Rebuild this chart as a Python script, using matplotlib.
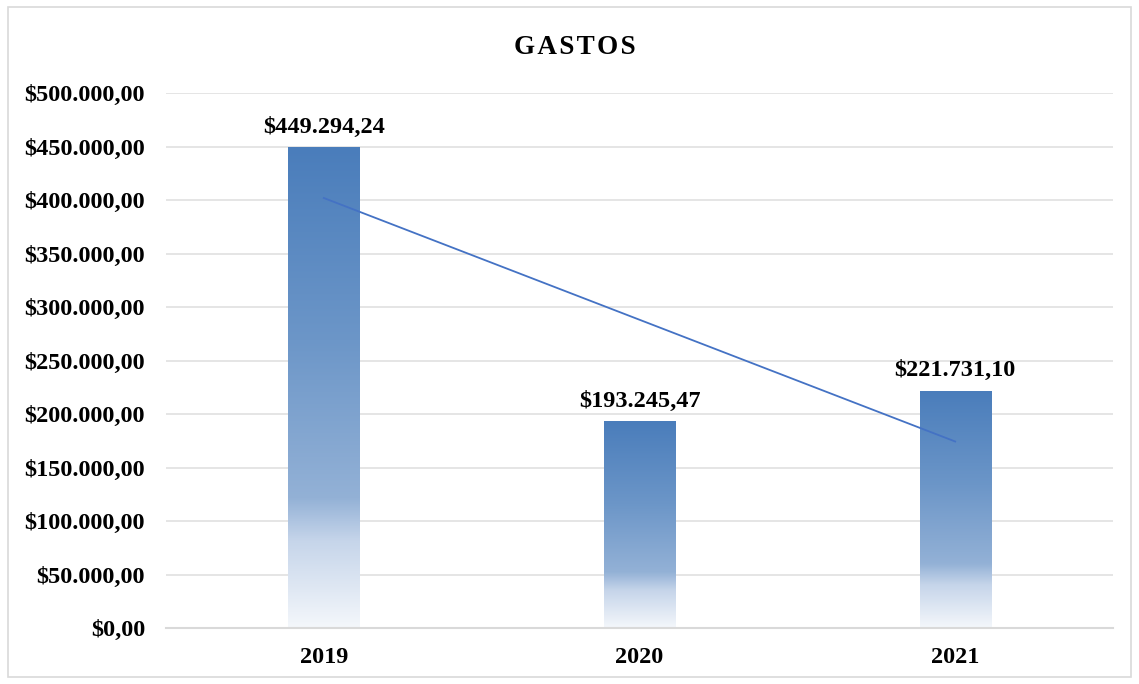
import numpy as np
import matplotlib
matplotlib.use("Agg")
import matplotlib.pyplot as plt
from matplotlib.colors import LinearSegmentedColormap
from matplotlib.patches import Rectangle

# Data
years = ["2019", "2020", "2021"]
gastos = [449294.24, 193245.47, 221731.10]
y_ticks = [0, 50000, 100000, 150000, 200000, 250000, 300000, 350000, 400000, 450000, 500000]

plt.rcParams["font.family"] = ["Liberation Serif", "DejaVu Serif"]
plt.rcParams["font.weight"] = "bold"


def money(v):
    s = f"{v:,.2f}"
    s = s.replace(",", "X").replace(".", ",").replace("X", ".")
    return "$" + s


fig = plt.figure(figsize=(11.39, 6.84), dpi=100)
ax = fig.add_axes([166 / 1139, 56 / 684, 947 / 1139, 535 / 684])

# gradient (top blue -> white at bottom), like the Excel fill
grad = LinearSegmentedColormap.from_list(
    "g", [(0.0, "#f4f7fb"), (0.18, "#c6d5ea"), (0.27, "#93b1d6"),
          (0.6, "#6c96c8"), (1.0, "#4a7dbb")])
x = np.arange(len(years))
width = 0.225
bars = ax.bar(x, gastos, width, color="none", edgecolor="none", zorder=2)
for b in bars:
    x0, w, h = b.get_x(), b.get_width(), b.get_height()
    im = ax.imshow(np.linspace(0, 1, 256).reshape(-1, 1), cmap=grad,
                   extent=(x0, x0 + w, 0, h), origin="lower",
                   aspect="auto", zorder=2)
    im.set_clip_path(b)

# linear trendline
m, c = np.polyfit(x, gastos, 1)
ax.plot(x, m * x + c, color="#4472c4", lw=1.3, zorder=3)

for xi, v in zip(x, gastos):
    ax.annotate(money(v), (xi, v), xytext=(0, 7), textcoords="offset points",
                ha="center", va="bottom", fontsize=17.5, fontweight="bold")

ax.set_xlim(-0.5, 2.5)
ax.set_ylim(0, 500000)
ax.set_yticks(y_ticks)
ax.set_yticklabels([money(t) for t in y_ticks])
ax.set_xticks(x)
ax.set_xticklabels(years)
ax.tick_params(length=0, labelsize=17.5)
ax.tick_params(axis="x", pad=14)
ax.tick_params(axis="y", pad=15)
for t in ax.get_xticklabels() + ax.get_yticklabels():
    t.set_fontweight("bold")
ax.grid(axis="y", color="#e0e0e0", lw=1.2, zorder=0)
ax.set_axisbelow(True)
for s in ["top", "right", "left"]:
    ax.spines[s].set_visible(False)
ax.spines["bottom"].set_color("#d9d9d9")
ax.spines["bottom"].set_linewidth(1.5)

fig.text(575 / 1139, 1 - 47 / 684, "\u200a".join("GASTOS"), ha="center",
         va="center", fontsize=19.5, fontweight="bold")

fig.patches.append(Rectangle((8 / 1139, 7 / 684), 1123 / 1139, 670 / 684,
                             transform=fig.transFigure, fill=False,
                             edgecolor="#d9d9d9", lw=1.2))

fig.savefig("out.png", dpi=100)
